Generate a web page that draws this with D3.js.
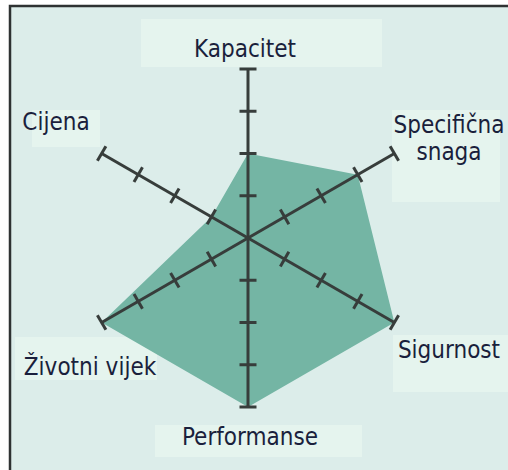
<!DOCTYPE html>
<html>
<head>
<meta charset="utf-8">
<script src="https://cdn.jsdelivr.net/npm/d3@7"></script>
<style>
  body { margin: 0; background: #fff; }
  svg { display: block; }
  .lbl { font-family: "DejaVu Sans Condensed", "DejaVu Sans", sans-serif; font-size: 24px; fill: #1a1f3c; }
</style>
</head>
<body>
<div id="chart"></div>
<script>
// axes of the radar, clockwise from the top
const axes = ["Kapacitet", "Specifična snaga", "Sigurnost", "Performanse", "Životni vijek", "Cijena"];
// value on each axis (0..4)
const values = [2, 3, 4, 4, 4, 1];
const levels = [1, 2, 3, 4];

const W = 508, H = 470;
const cx = 248, cy = 238, R = 169;

const svg = d3.select("#chart").append("svg")
  .attr("width", W).attr("height", H);

// panel
svg.append("rect").attr("x", 10).attr("y", 6).attr("width", W - 10).attr("height", H - 6)
  .attr("fill", "#dcedea");
svg.append("path").attr("d", `M10,${H} L10,6 L${W},6`)
  .attr("fill", "none").attr("stroke", "#2e3232").attr("stroke-width", 2.5);

const r = d3.scaleLinear().domain([0, 4]).range([0, R]);
const angle = d3.scaleLinear().domain([0, axes.length]).range([-Math.PI / 2, 1.5 * Math.PI]);
const pt = (i, v) => [cx + r(v) * Math.cos(angle(i)), cy + r(v) * Math.sin(angle(i))];

// label placement: [anchor x, first baseline, box x, box y, box w, box h]
const labelPos = [
  [245, 57, 141, 19, 241, 48],
  [449, 133, 392, 110, 108, 92],
  [449, 358, 393, 335, 115, 57],
  [250, 445, 155, 425, 207, 32],
  [90, 375, 15, 337, 142, 43],
  [56, 130, 32, 110, 68, 37]
];

const g = svg.append("g");
g.selectAll("rect.box").data(labelPos).join("rect").attr("class", "box")
  .attr("x", d => d[2]).attr("y", d => d[3]).attr("width", d => d[4]).attr("height", d => d[5])
  .attr("fill", "#e5f4ee");

// data polygon
g.append("polygon")
  .attr("points", values.map((v, i) => pt(i, v).join(",")).join(" "))
  .attr("fill", "#74b5a4");

// axis lines
const axisG = g.selectAll("g.axis").data(axes).join("g").attr("class", "axis");
axisG.append("line")
  .attr("x1", cx).attr("y1", cy)
  .attr("x2", (d, i) => pt(i, 4)[0]).attr("y2", (d, i) => pt(i, 4)[1])
  .attr("stroke", "#373d3b").attr("stroke-width", 3);

// ticks perpendicular to each axis
const tickHalf = 8.5;
axisG.each(function(d, i) {
  const a = angle(i);
  const nx = -Math.sin(a), ny = Math.cos(a);
  d3.select(this).selectAll("line.tick").data(levels).join("line").attr("class", "tick")
    .attr("x1", v => pt(i, v)[0] - nx * tickHalf).attr("y1", v => pt(i, v)[1] - ny * tickHalf)
    .attr("x2", v => pt(i, v)[0] + nx * tickHalf).attr("y2", v => pt(i, v)[1] + ny * tickHalf)
    .attr("stroke", "#373d3b").attr("stroke-width", 3);
});

// labels
g.selectAll("text.lbl").data(axes).join("text").attr("class", "lbl")
  .attr("text-anchor", "middle")
  .attr("x", (d, i) => labelPos[i][0]).attr("y", (d, i) => labelPos[i][1])
  .each(function(d, i) {
    const words = i === 1 ? d.split(" ") : [d];
    d3.select(this).selectAll("tspan").data(words).join("tspan")
      .attr("x", labelPos[i][0]).attr("dy", (w, j) => j === 0 ? 0 : 27).text(w => w);
  });
</script>
</body>
</html>
